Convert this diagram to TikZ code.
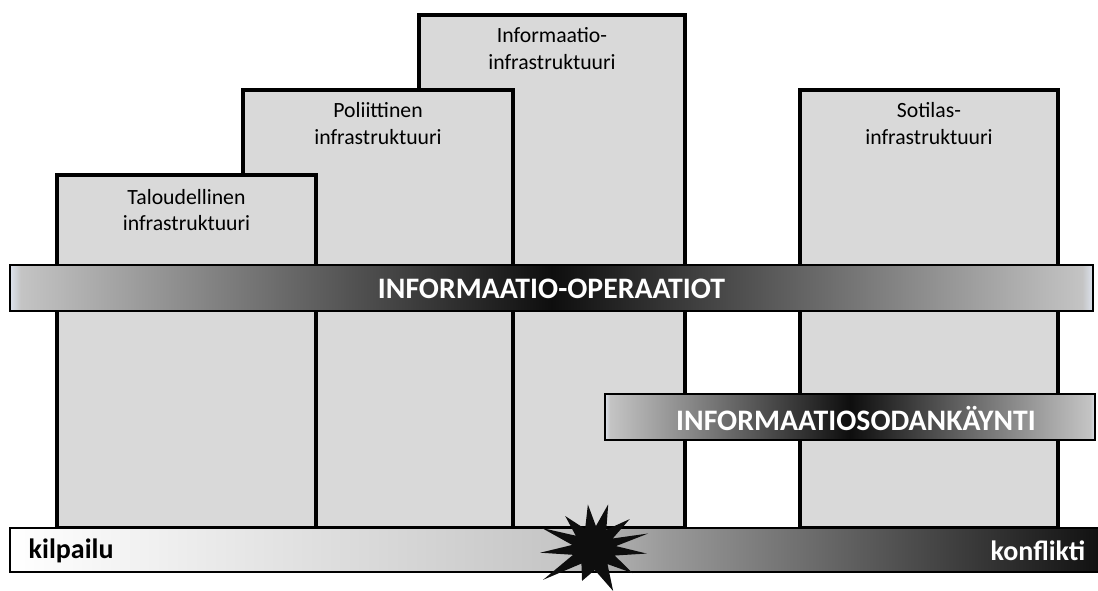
\documentclass[tikz,border=0pt]{standalone}
\usepackage{fontspec}
\setmainfont{Carlito}
\definecolor{boxfill}{HTML}{D9D9D9}
\definecolor{barpale}{HTML}{DDE3EE}
\definecolor{barlight}{HTML}{C4C4C4}
\definecolor{bardark}{HTML}{0E0E0E}
\definecolor{lowlight}{HTML}{C6C6C6}
\definecolor{lowmid}{HTML}{9A9A9A}
\definecolor{lowdark}{HTML}{111111}
\pgfdeclarehorizontalshading{opshade}{100bp}{color(0bp)=(barpale); color(25bp)=(barpale); color(25.5bp)=(barlight); color(50bp)=(bardark); color(74.5bp)=(barlight); color(75bp)=(barpale); color(100bp)=(barpale)}
\pgfdeclarehorizontalshading{lowshade}{100bp}{color(0bp)=(white); color(25bp)=(white); color(50bp)=(lowlight); color(55bp)=(lowmid); color(75bp)=(lowdark); color(100bp)=(lowdark)}
\begin{document}
\begin{tikzpicture}[x=0.75pt,y=-0.75pt,
	infra/.style={draw=black,line width=2.6pt,fill=boxfill},
	infralabel/.style={align=center,font=\fontsize{16.3}{20}\selectfont},
	bar/.style={draw=black,line width=1.6pt},
	bartext/.style={text=white,font=\fontsize{22.3}{26}\selectfont\bfseries},
	endtext/.style={font=\fontsize{21}{24}\selectfont\bfseries}]
	\useasboundingbox (0,0) rectangle (1098,590);
	% infrastruktuurit, takimmainen ensin
	\draw[infra] (419,15) rectangle (685,528);
	\draw[infra] (243,90) rectangle (513,528);
	\draw[infra] (57,175) rectangle (316,528);
	\draw[infra] (800,90) rectangle (1058,528);
	\node[infralabel] (info) at (552,48.5) {Informaatio-\\infrastruktuuri};
	\node[infralabel] (pol) at (378,123.5) {Poliittinen\\infrastruktuuri};
	\node[infralabel] (tal) at (186.5,210) {Taloudellinen\\infrastruktuuri};
	\node[infralabel] (sot) at (929,123.5) {Sotilas-\\infrastruktuuri};
	% palkit
	\draw[bar,shading=opshade] (10,265) rectangle (1093,311);
	\node[bartext] (ops) at (551.5,289) {INFORMAATIO-OPERAATIOT};
	\draw[bar,shading=opshade] (605,394) rectangle (1095,440);
	\node[bartext] (sod) at (856,418) {INFORMAATIOSODANKÄYNTI};
	\draw[bar,shading=lowshade] (10,528) rectangle (1100,572);
	\node[endtext,anchor=west] (kil) at (24,551) {kilpailu};
	\node[endtext,anchor=east,text=white] (kon) at (1090,551) {konflikti};
	% räjähdys
	\fill[bardark] (594,548)
		+(148:60) -- +(129:20) -- +(110:35) -- +(88:22) -- +(66:47) -- +(50:21)
		-- +(33:46) -- +(20:22) -- +(6:53) -- +(-5:22) -- +(-15:56) -- +(-27:21)
		-- +(-39:46) -- +(-56:22) -- +(-72:46) -- +(-85:22) -- +(-98:44) -- +(-115:21)
		-- +(-132:43) -- +(-146:22) -- +(-159:56) -- +(-172:22) -- +(175:54) -- +(162:22) -- cycle;
\end{tikzpicture}
\end{document}
